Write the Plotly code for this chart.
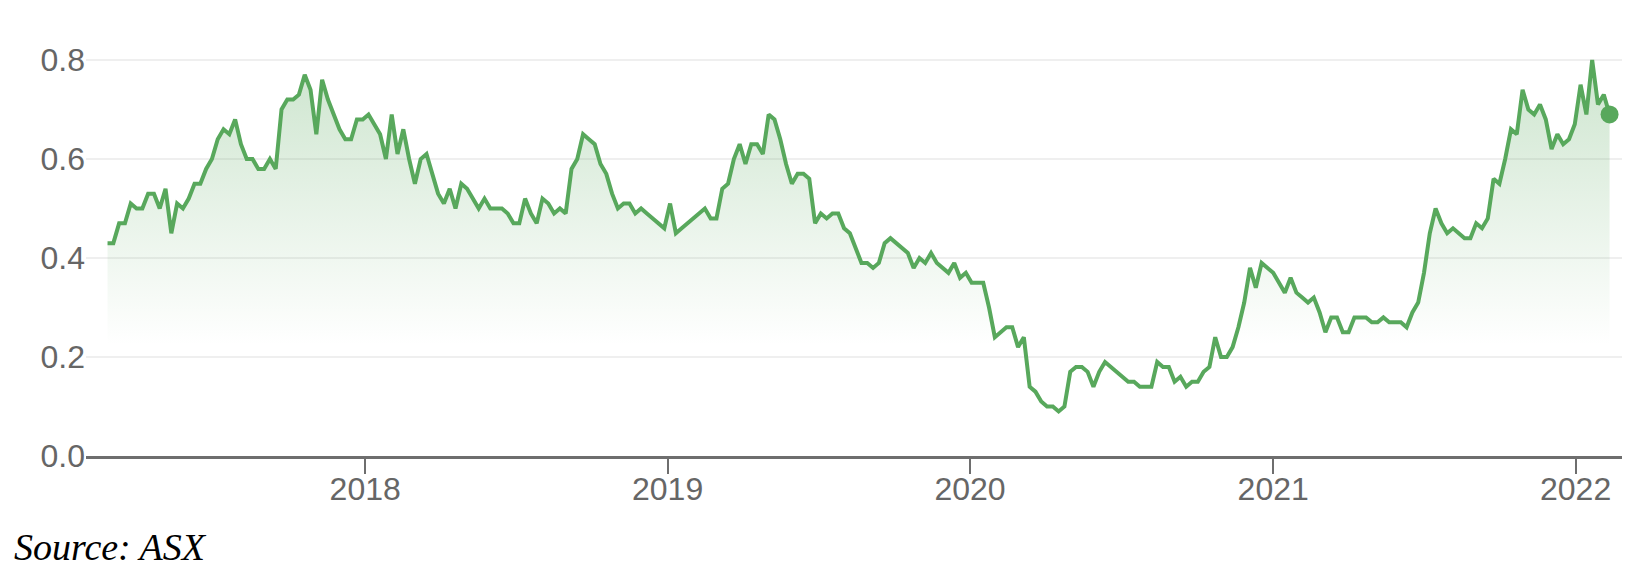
import pandas as pd
import plotly.graph_objects as go

# ---- data (weekly closing price) ----
start_date = "2017-02-24"
values = [
    0.43, 0.43, 0.47, 0.47, 0.51, 0.50, 0.50, 0.53, 0.53, 0.50,
    0.54, 0.45, 0.51, 0.50, 0.52, 0.55, 0.55, 0.58, 0.60, 0.64,
    0.66, 0.65, 0.68, 0.63, 0.60, 0.60, 0.58, 0.58, 0.60, 0.58,
    0.70, 0.72, 0.72, 0.73, 0.77, 0.74, 0.65, 0.76, 0.72, 0.69,
    0.66, 0.64, 0.64, 0.68, 0.68, 0.69, 0.67, 0.65, 0.60, 0.69,
    0.61, 0.66, 0.60, 0.55, 0.60, 0.61, 0.57, 0.53, 0.51, 0.54,
    0.50, 0.55, 0.54, 0.52, 0.50, 0.52, 0.50, 0.50, 0.50, 0.49,
    0.47, 0.47, 0.52, 0.49, 0.47, 0.52, 0.51, 0.49, 0.50, 0.49,
    0.58, 0.60, 0.65, 0.64, 0.63, 0.59, 0.57, 0.53, 0.50, 0.51,
    0.51, 0.49, 0.50, 0.49, 0.48, 0.47, 0.46, 0.51, 0.45, 0.46,
    0.47, 0.48, 0.49, 0.50, 0.48, 0.48, 0.54, 0.55, 0.60, 0.63,
    0.59, 0.63, 0.63, 0.61, 0.69, 0.68, 0.64, 0.59, 0.55, 0.57,
    0.57, 0.56, 0.47, 0.49, 0.48, 0.49, 0.49, 0.46, 0.45, 0.42,
    0.39, 0.39, 0.38, 0.39, 0.43, 0.44, 0.43, 0.42, 0.41, 0.38,
    0.40, 0.39, 0.41, 0.39, 0.38, 0.37, 0.39, 0.36, 0.37, 0.35,
    0.35, 0.35, 0.30, 0.24, 0.25, 0.26, 0.26, 0.22, 0.24, 0.14,
    0.13, 0.11, 0.10, 0.10, 0.09, 0.10, 0.17, 0.18, 0.18, 0.17,
    0.14, 0.17, 0.19, 0.18, 0.17, 0.16, 0.15, 0.15, 0.14, 0.14,
    0.14, 0.19, 0.18, 0.18, 0.15, 0.16, 0.14, 0.15, 0.15, 0.17,
    0.18, 0.24, 0.20, 0.20, 0.22, 0.26, 0.31, 0.38, 0.34, 0.39,
    0.38, 0.37, 0.35, 0.33, 0.36, 0.33, 0.32, 0.31, 0.32, 0.29,
    0.25, 0.28, 0.28, 0.25, 0.25, 0.28, 0.28, 0.28, 0.27, 0.27,
    0.28, 0.27, 0.27, 0.27, 0.26, 0.29, 0.31, 0.37, 0.45, 0.50,
    0.47, 0.45, 0.46, 0.45, 0.44, 0.44, 0.47, 0.46, 0.48, 0.56,
    0.55, 0.60, 0.66, 0.65, 0.74, 0.70, 0.69, 0.71, 0.68, 0.62,
    0.65, 0.63, 0.64, 0.67, 0.75, 0.69, 0.80, 0.71, 0.73, 0.69,
]
dates = pd.date_range(start_date, periods=len(values), freq="7D")

y_ticks = [0.0, 0.2, 0.4, 0.6, 0.8]
y_tick_labels = ["0.0", "0.2", "0.4", "0.6", "0.8"]
x_range = ["2017-01-29", "2022-02-26"]
source_text = "Source: ASX"

# ---- styling ----
W, H = 1634, 588
ML, MR, MT, MB = 86, 12, 30, 132
GREEN = "rgb(88,168,92)"
plot_h = H - MT - MB
y_top = 0.8 * plot_h / 396.0

fig = go.Figure()
fig.add_trace(go.Scatter(
    x=dates, y=values, mode="lines",
    line=dict(color=GREEN, width=4),
    fill="tozeroy",
    fillgradient=dict(
        type="vertical",
        start=0.0, stop=0.8,
        colorscale=[[0.0, "rgba(88,168,92,0)"], [0.28, "rgba(88,168,92,0.0)"],
                    [1.0, "rgba(88,168,92,0.30)"]],
    ),
    hoverinfo="skip", showlegend=False,
))
fig.add_trace(go.Scatter(
    x=[dates[-1]], y=[values[-1]], mode="markers",
    marker=dict(color=GREEN, size=18),
    hoverinfo="skip", showlegend=False,
))

fig.update_layout(
    width=W, height=H,
    margin=dict(l=ML, r=MR, t=MT, b=MB, autoexpand=False),
    paper_bgcolor="white", plot_bgcolor="white",
    font=dict(family="Liberation Sans, Arial, sans-serif", size=32, color="#666666"),
    xaxis=dict(
        range=x_range, type="date", automargin=False,
        tick0="2018-01-01", dtick="M12", tickformat="%Y",
        showgrid=False, zeroline=False,
        showline=True, linecolor="#6e6e6e", linewidth=2.5,
        ticks="outside", ticklen=15, tickwidth=2, tickcolor="#6e6e6e",
        ticklabelstandoff=-12,
        tickfont=dict(size=32, color="#666666"),
    ),
    yaxis=dict(
        range=[0, y_top], automargin=False,
        tickvals=y_ticks, ticktext=y_tick_labels,
        showgrid=True, gridcolor="#efefef", gridwidth=2,
        zeroline=False, showline=False, ticks="",
        tickfont=dict(size=32, color="#666666"),
    ),
    annotations=[dict(
        text="<i>" + source_text + "</i>",
        xref="paper", yref="paper",
        x=(12 - ML) / (W - ML - MR), y=(H - MB - 547) / plot_h,
        xanchor="left", yanchor="middle", showarrow=False,
        font=dict(family="Liberation Serif, Times New Roman, serif", size=38, color="black"),
    )],
)

fig.write_html("out.html", config={"displayModeBar": False},
               post_script="document.body.style.margin='0';")
